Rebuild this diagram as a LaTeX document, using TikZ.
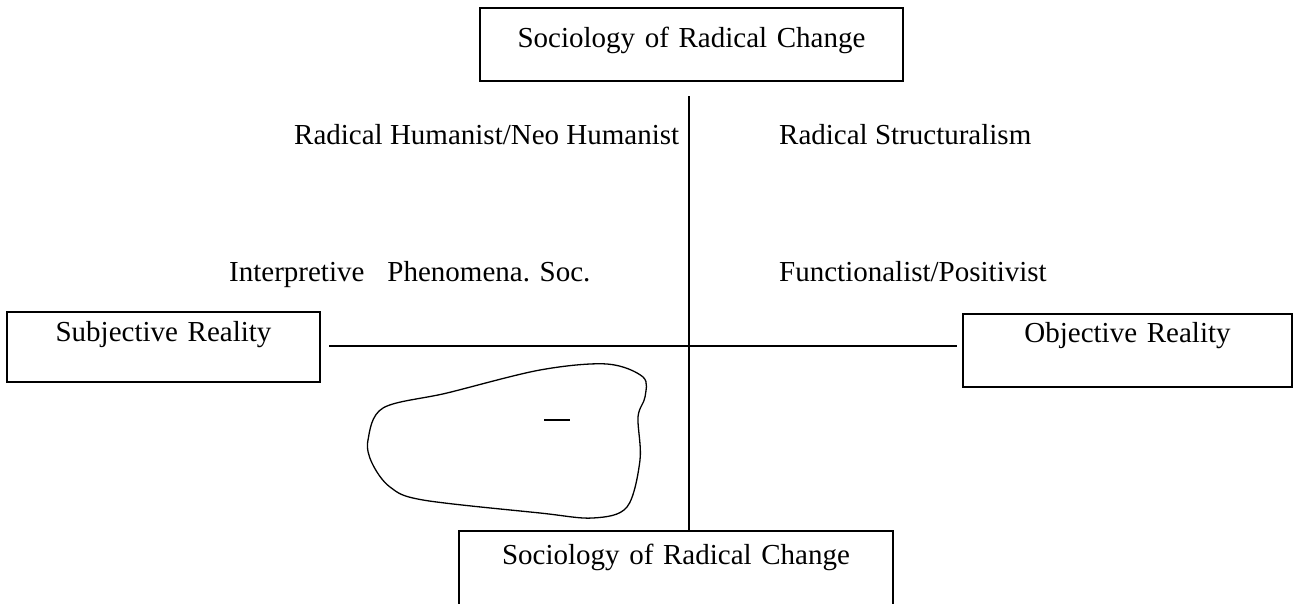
\documentclass[tikz,border=0pt]{standalone}
\usepackage{fontspec}
\setmainfont{Liberation Serif}
\begin{document}
\begin{tikzpicture}[x=1pt,y=-1pt,
  every node/.style={font=\fontsize{29}{34}\selectfont, inner sep=0pt},
  frame/.style={draw, line width=1.4pt, align=center, anchor=base},
  label/.style={anchor=base west},
  axis/.style={line width=1.3pt}]
  \clip (0,0) rectangle (1304,603);
  \fill[white] (0,0) rectangle (1304,603);

  % four framed poles
  \node[frame, text width=423pt, text height=39pt, text depth=34pt] (top) at (691.5,47) {Sociology of Radical Change};
  \node[frame, text width=434pt, text height=33pt, text depth=60pt] (bottom) at (676,564) {Sociology of Radical Change};
  \node[frame, text width=313pt, text height=29pt, text depth=41pt] (left) at (163.5,341) {Subjective Reality};
  \node[frame, text width=329pt, text height=28pt, text depth=45pt] (right) at (1127.5,342) {Objective Reality};

  % axes
  \coordinate (vtop) at (689,96);
  \coordinate (hl) at (329,346);
  \coordinate (hr) at (957,346);
  \draw[axis] (vtop) -- (vtop |- bottom.north);
  \draw[axis] (hl) -- (hr);

  % quadrant labels
  \node[label] (rh) at (294,144) {Radical Humanist/Neo Humanist};
  \node[label] (rs) at (779,144) {Radical Structuralism};
  \node[label] (ip) at (229,281) {Interpretive\hspace*{23pt}Phenomena. Soc.};
  \node[label] (fp) at (779,281) {Functionalist/Positivist};

  % closed freehand outline with a short dash inside
  \draw[line width=1.3pt] plot[smooth cycle, tension=0.55] coordinates {
    (368,440) (383,408) (447,393) (540,370) (607,364) (643,377)
    (645,397) (638,417) (640,460) (627,507) (593,518) (540,513)
    (423,500) (390,487) (372,463)};
  \draw[line width=1.2pt] (544,420) -- (570,420);
\end{tikzpicture}
\end{document}
